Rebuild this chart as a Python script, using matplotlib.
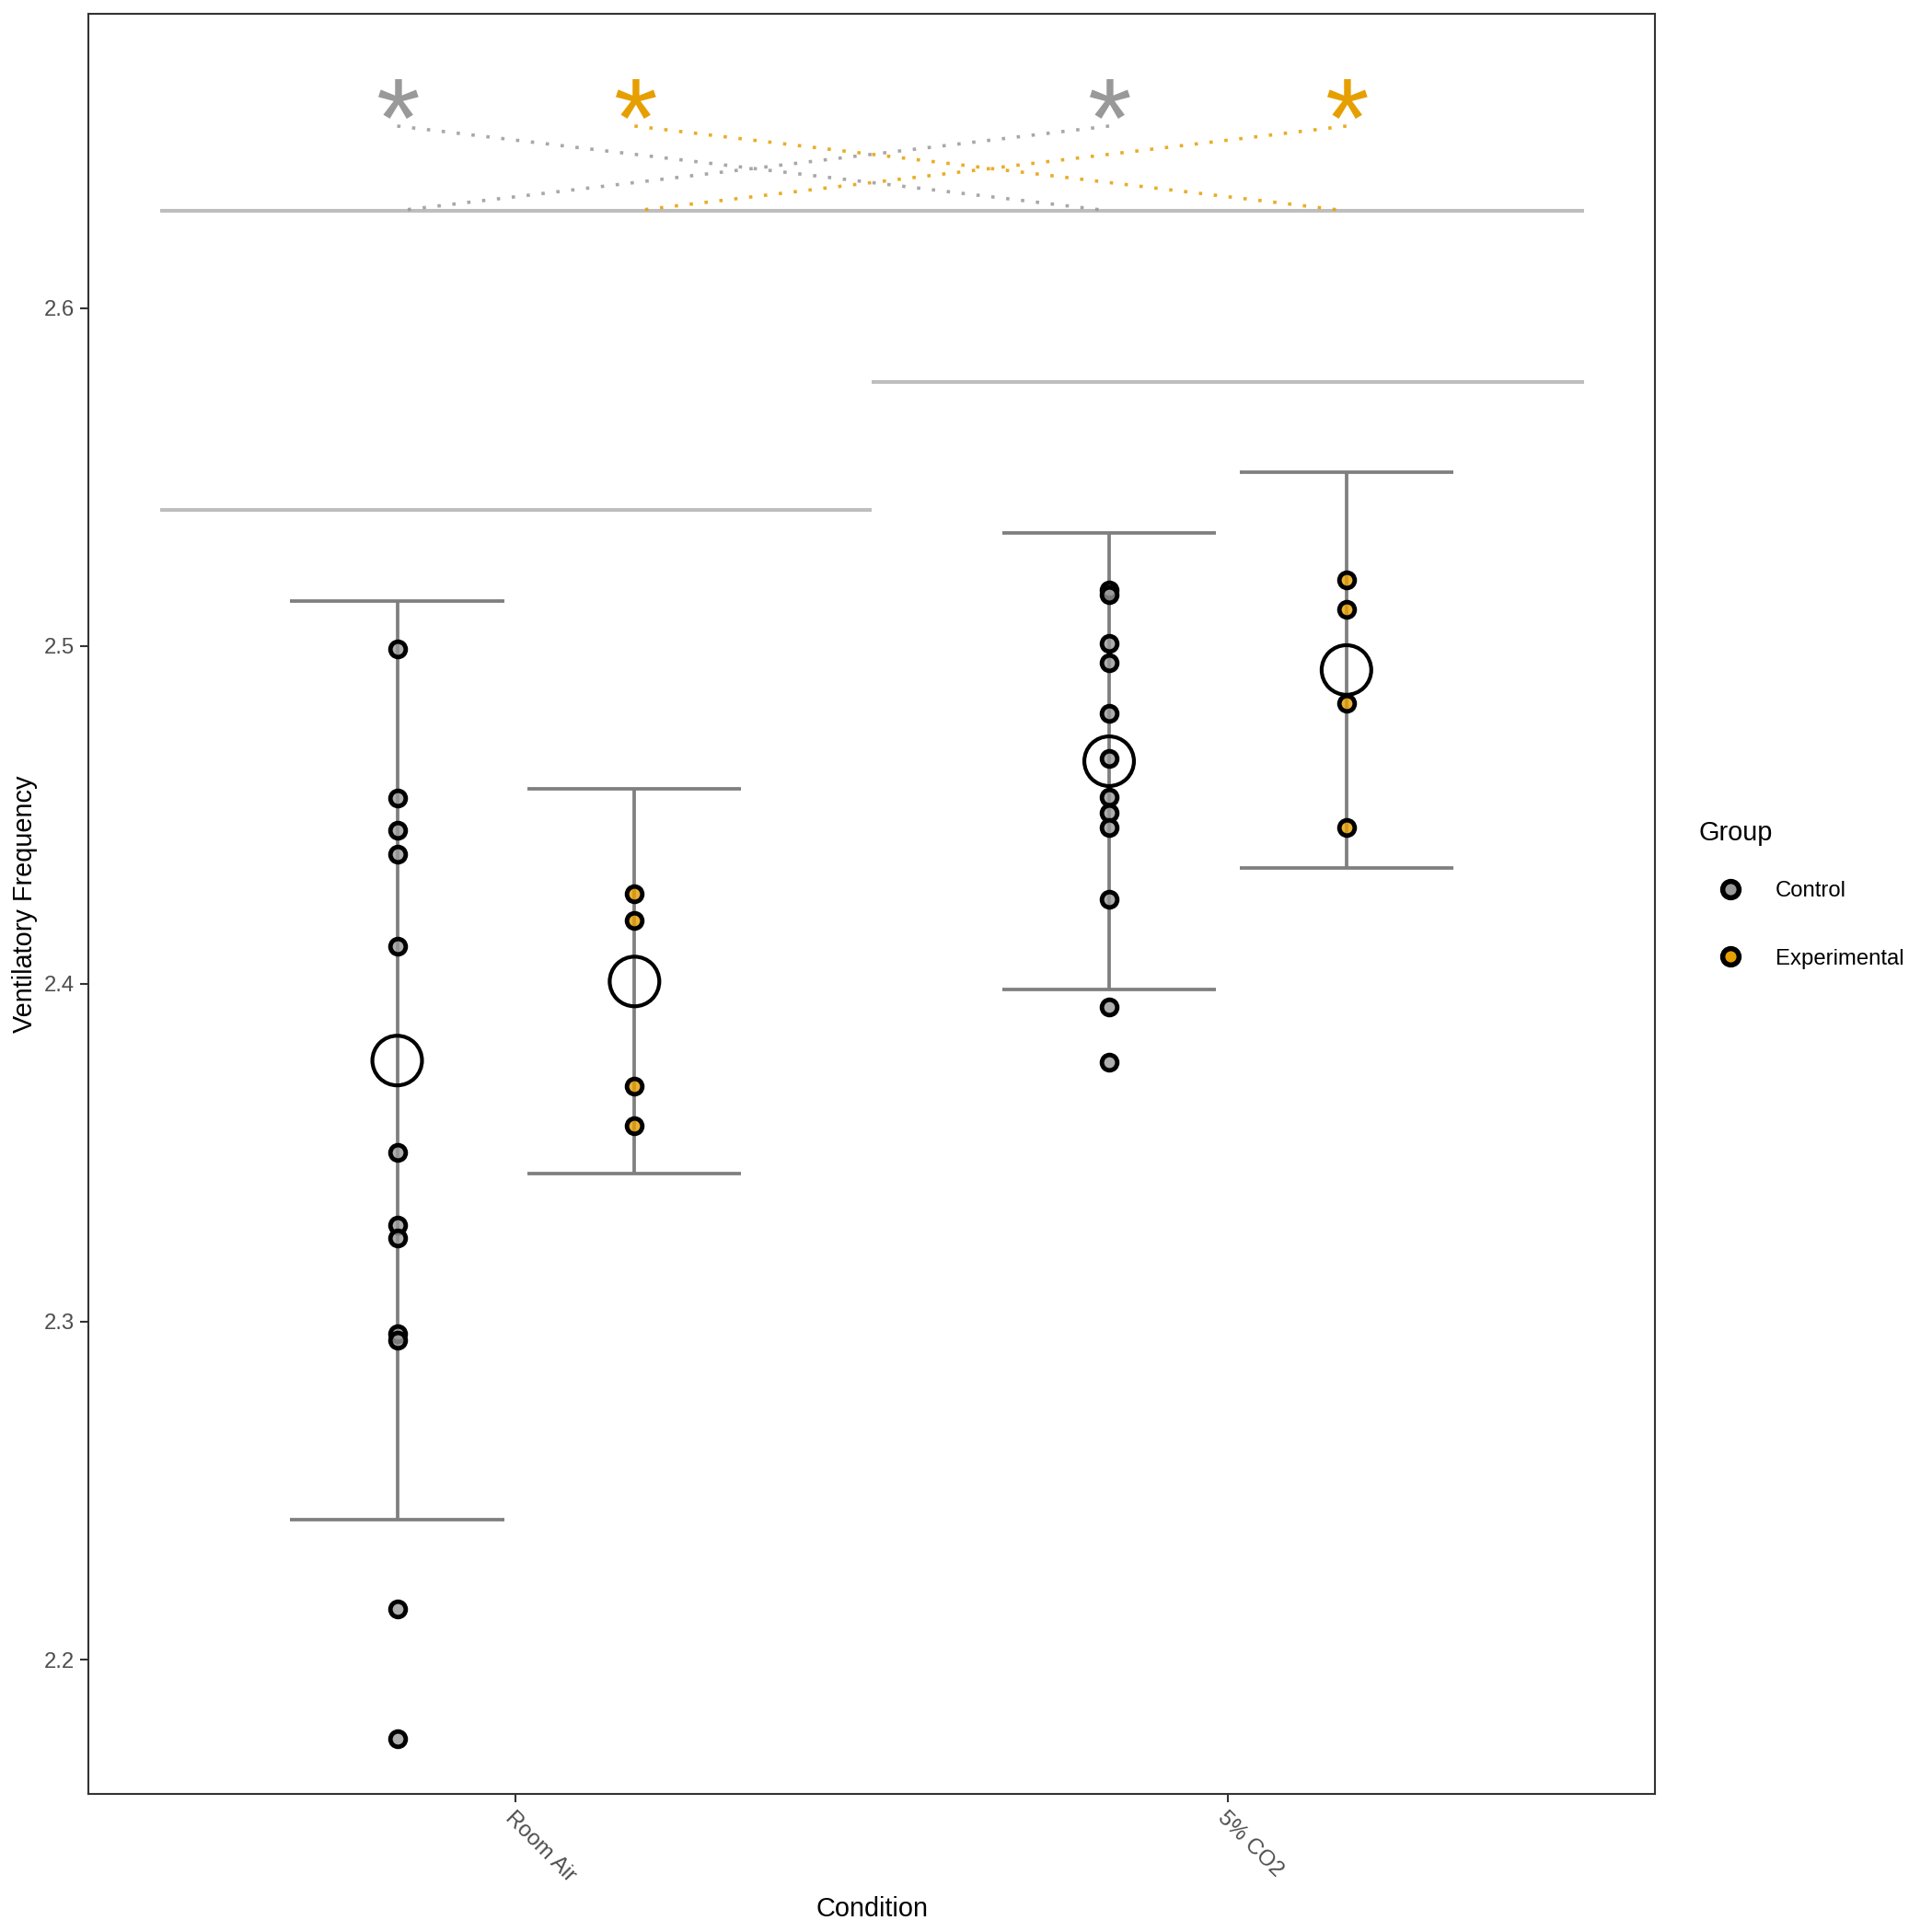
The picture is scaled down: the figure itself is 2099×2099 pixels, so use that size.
import numpy as np
import matplotlib
matplotlib.use("Agg")
import matplotlib.pyplot as plt
from matplotlib.lines import Line2D

plt.rcParams['font.family'] = ['Liberation Sans', 'DejaVu Sans']

# ---- data ----
conditions = ["Room Air", "5% CO2"]
groups = ["Control", "Experimental"]
group_colors = {"Control": "#999999", "Experimental": "#E69F00"}

ra_control = [2.4992, 2.4550, 2.4455, 2.4385, 2.4111, 2.3502, 2.3285, 2.3247,
              2.2965, 2.2945, 2.2151, 2.1767]
ra_experimental = [2.4268, 2.4188, 2.3696, 2.3579]
co2_control = [2.5166, 2.5151, 2.5007, 2.4950, 2.4802, 2.4667, 2.4554, 2.4506,
               2.4463, 2.4250, 2.3931, 2.3768]
co2_experimental = [2.5196, 2.5108, 2.4831, 2.4464]

# estimated means and error bar half widths (Room Air / 5% CO2)
means_control = [2.3773, 2.4659]
means_experimental = [2.4007, 2.4929]
err_control = [0.1359, 0.0675]
err_experimental = [0.0569, 0.0586]

# reference lines: (y, x_start, x_end)
ref_lines = [(2.5402, 0.5, 1.5), (2.5781, 1.5, 2.5), (2.6288, 0.5, 2.5)]
star_y = 2.6602
link_top = 2.6539
link_bottom = 2.6288

points = {
    ("Room Air", "Control"): ra_control,
    ("Room Air", "Experimental"): ra_experimental,
    ("5% CO2", "Control"): co2_control,
    ("5% CO2", "Experimental"): co2_experimental,
}
means = {"Control": means_control, "Experimental": means_experimental}
errs = {"Control": err_control, "Experimental": err_experimental}

dodge = {"Control": -1 / 6, "Experimental": 1 / 6}
cap_half = 0.15

fig = plt.figure(figsize=(2099 / 200, 2099 / 200), dpi=200)
ax = fig.add_axes([0.0459, 0.0715, 0.8107, 0.9215])

bar_color = "#7F7F7F"
for y, x0, x1 in ref_lines:
    ax.plot([x0, x1], [y, y], color="#BEBEBE", lw=1.45, solid_capstyle="butt", zorder=1)

# error bars
for g in groups:
    for i, c in enumerate(conditions):
        x = i + 1 + dodge[g]
        m, e = means[g][i], errs[g][i]
        ax.plot([x, x], [m - e, m + e], color=bar_color, lw=1.35, zorder=2,
                solid_capstyle="butt")
        for yy in (m - e, m + e):
            ax.plot([x - cap_half, x + cap_half], [yy, yy], color=bar_color, lw=1.35,
                    zorder=2, solid_capstyle="butt")

# individual points
pt_size = 6.0
pt_edge = 1.75
for (c, g), vals in points.items():
    x = conditions.index(c) + 1 + dodge[g]
    fc = matplotlib.colors.to_rgba(group_colors[g], 0.8)
    ax.scatter(np.full(len(vals), x), vals, s=pt_size ** 2, facecolors=[fc],
               edgecolors="black", linewidths=pt_edge, zorder=3)

# means
for g in groups:
    xs = np.arange(1, len(conditions) + 1) + dodge[g]
    ax.scatter(xs, means[g], s=19.4 ** 2, facecolors="none", edgecolors="black",
               linewidths=1.5, zorder=4)

# significance asterisks and crossing dotted links
star_fs = 44
for g in groups:
    x_ra = 1 + dodge[g]
    x_co2 = 2 + dodge[g]
    col = group_colors[g]
    for xa, xb in ((x_ra, x_co2), (x_co2, x_ra)):
        ax.plot([xa, xb], [link_top, link_bottom], color=col, alpha=0.85, lw=1.3,
                linestyle=(0, (1, 3.5)), zorder=2)
    for xs in (x_ra, x_co2):
        ax.annotate("*", xy=(xs, star_y), xytext=(0, -20.2),
                    textcoords="offset points", ha="center", va="baseline",
                    fontsize=star_fs, color=col, zorder=5)

ax.set_xlim(0.4, 2.6)
ax.set_ylim(2.16025, 2.6872)
ax.set_xticks([1, 2])
ax.set_xticklabels(conditions, rotation=-45, ha="left", va="top",
                   rotation_mode="anchor")
ax.set_yticks([2.2, 2.3, 2.4, 2.5, 2.6])
ax.set_yticklabels(["2.2", "2.3", "2.4", "2.5", "2.6"])
ax.tick_params(axis="both", length=3.1, width=0.75, color="#333333",
               labelcolor="#4D4D4D", labelsize=8.6, pad=2.4)
for sp in ax.spines.values():
    sp.set_color("#333333")
    sp.set_linewidth(0.75)

ax.set_xlabel("Condition", fontsize=10.4, labelpad=4)
ax.set_ylabel("Ventilatory Frequency", fontsize=10.4, labelpad=2.6)

# legend
handles = [Line2D([], [], marker="o", linestyle="none", markersize=6.4,
                  markerfacecolor=group_colors[g], markeredgecolor="black",
                  markeredgewidth=2.0) for g in groups]
fig.text(0.879, 0.569, "Group", fontsize=10.4, ha="left", va="center")
fig.legend(handles, groups, loc="upper left", bbox_to_anchor=(0.879, 0.544),
           frameon=False, fontsize=8.6, handlelength=2.9, handletextpad=0.6,
           labelspacing=2.15, borderpad=0, borderaxespad=0)

fig.savefig("out.png", dpi=200)
